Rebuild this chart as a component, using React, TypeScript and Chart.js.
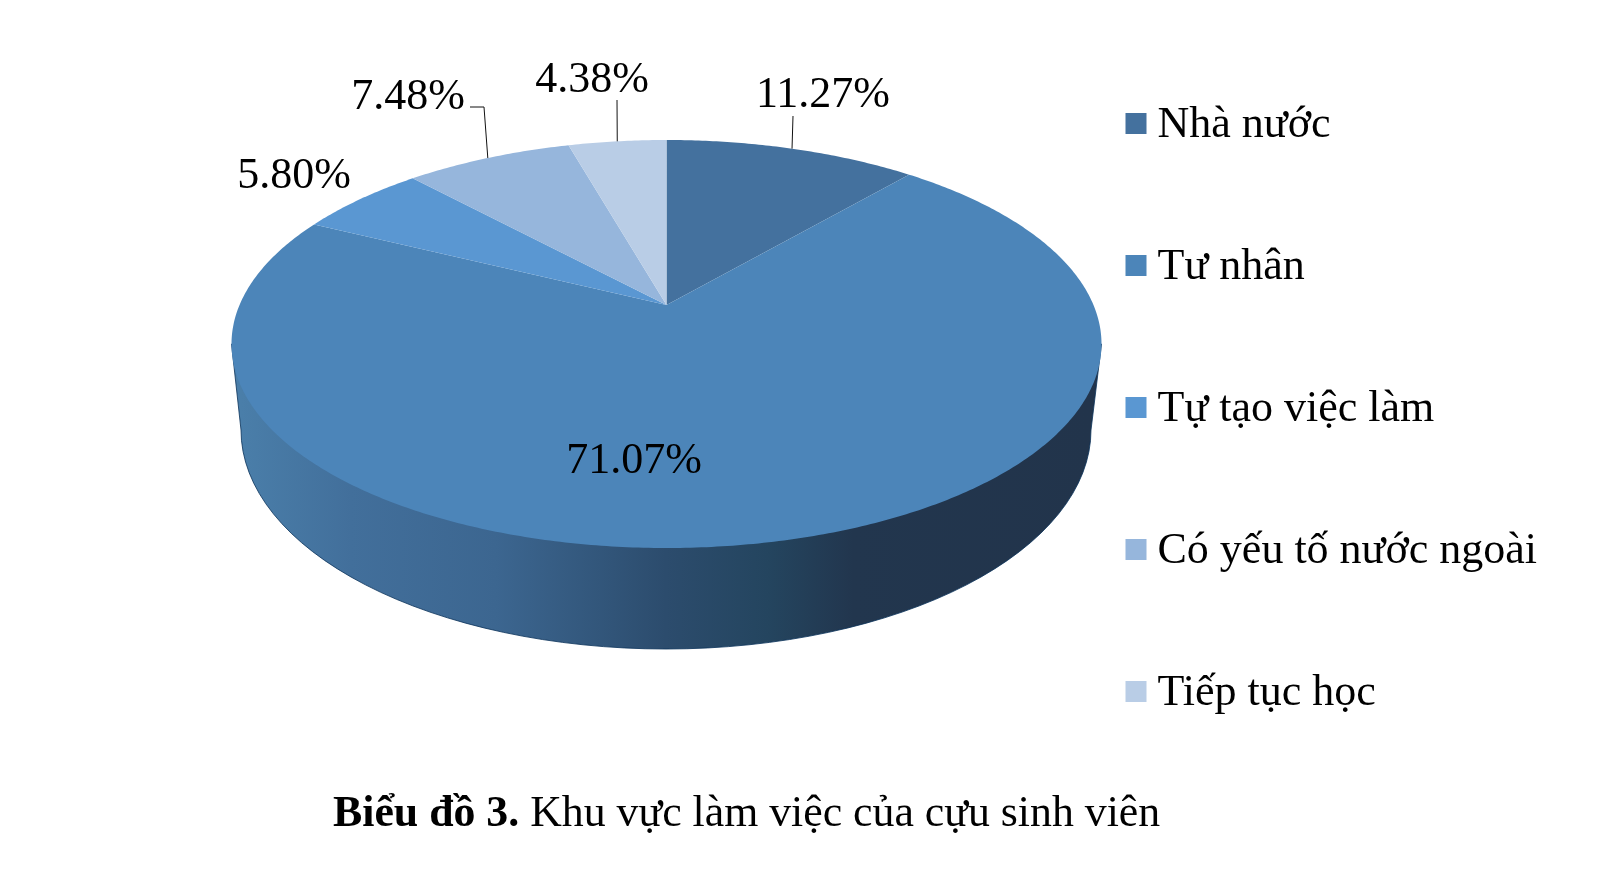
import React, { useEffect, useRef } from "react";
import { Chart, registerables } from "chart.js";

Chart.register(...registerables);

const categories = ["Nhà nước", "Tư nhân", "Tự tạo việc làm", "Có yếu tố nước ngoài", "Tiếp tục học"];
const shares = [11.27, 71.07, 5.8, 7.48, 4.38];
const sliceColors = ["#44719e", "#4c85b9", "#5a97d2", "#96b6dc", "#b9cde6"];

const FONT = '"Liberation Serif"';
const TOP = { cx: 666.5, cy: 344, rx: 435, ry: 204, apexY: 305 };
const BASE = { cx: 666, cy: 430, rx: 425, ry: 219 };

// text anchor (centre x, baseline y) and leader path for each data label
const labelSpots = [
  { x: 823, y: 107, leader: [[793, 116]] },
  { x: 634, y: 473, leader: [] },
  { x: 294, y: 188, leader: [] },
  { x: 408, y: 109, leader: [[470, 107], [484, 107]] },
  { x: 592, y: 92, leader: [[617, 100]] },
];

function rim(a: number) {
  const k = (TOP.apexY - TOP.cy) / TOP.ry;
  const d = 1 + k * Math.sin(a);
  const x = TOP.rx * Math.sqrt(1 - k * k) * Math.cos(a) / d;
  const y = TOP.ry * (Math.sin(a) + k) / d;
  return [TOP.cx + x, TOP.cy + y];
}

const pie3d = {
  id: "pie3d",
  beforeDatasetDraw(chart: any) {
    const ctx = chart.ctx;
    const arcs = chart.getDatasetMeta(0).data;

    // side wall
    const g = ctx.createLinearGradient(BASE.cx - BASE.rx, 0, BASE.cx + BASE.rx, 0);
    g.addColorStop(0, "#4a7ea9");
    g.addColorStop(0.13, "#426f9b");
    g.addColorStop(0.3, "#3c6690");
    g.addColorStop(0.5, "#2c4c6d");
    g.addColorStop(0.62, "#24455f");
    g.addColorStop(0.72, "#22364e");
    g.addColorStop(1, "#22344b");
    ctx.save();
    ctx.beginPath();
    ctx.moveTo(TOP.cx - TOP.rx, TOP.cy);
    ctx.ellipse(BASE.cx, BASE.cy, BASE.rx, BASE.ry, 0, Math.PI, 0, true);
    ctx.lineTo(TOP.cx + TOP.rx, TOP.cy);
    ctx.closePath();
    ctx.fillStyle = g;
    ctx.fill();
    ctx.strokeStyle = "rgba(10,50,90,0.8)";
    ctx.lineWidth = 1;
    ctx.stroke();

    // top face: the angles come from the library's arc elements
    arcs.forEach((arc: any, i: number) => {
      const { startAngle, endAngle } = arc.getProps(["startAngle", "endAngle"], true);
      ctx.beginPath();
      ctx.moveTo(TOP.cx, TOP.apexY);
      const steps = Math.ceil((endAngle - startAngle) / 0.01);
      for (let s = 0; s <= steps; s++) {
        const p = rim(startAngle + ((endAngle - startAngle) * s) / steps);
        ctx.lineTo(p[0], p[1]);
      }
      ctx.closePath();
      ctx.fillStyle = sliceColors[i];
      ctx.fill();
    });
    ctx.restore();
    return false;
  },
  afterDraw(chart: any) {
    const ctx = chart.ctx;
    const arcs = chart.getDatasetMeta(0).data;
    ctx.save();

    // legend swatches beside the library's legend text
    chart.legend.legendHitBoxes.forEach((box: any, i: number) => {
      ctx.fillStyle = sliceColors[i];
      ctx.fillRect(box.left - 10, box.top + box.height / 2 - 12, 21, 21);
    });

    // leaders and data labels
    ctx.font = `44px ${FONT}`;
    ctx.fillStyle = "#000";
    ctx.textAlign = "center";
    ctx.textBaseline = "alphabetic";
    shares.forEach((v, i) => {
      const spot = labelSpots[i];
      if (spot.leader.length) {
        const { startAngle, endAngle } = arcs[i].getProps(["startAngle", "endAngle"], true);
        const e = rim((startAngle + endAngle) / 2);
        ctx.beginPath();
        ctx.moveTo(spot.leader[0][0], spot.leader[0][1]);
        spot.leader.slice(1).forEach((p) => ctx.lineTo(p[0], p[1]));
        ctx.lineTo(e[0], e[1]);
        ctx.strokeStyle = "#111";
        ctx.lineWidth = 1;
        ctx.stroke();
      }
      ctx.fillText(`${v.toFixed(2)}%`, spot.x, spot.y);
    });
    ctx.restore();
  },
};

export default function App() {
  const ref = useRef<HTMLCanvasElement>(null);
  useEffect(() => {
    const chart = new Chart(ref.current!, {
      type: "pie",
      data: {
        labels: categories,
        datasets: [{ data: shares, backgroundColor: sliceColors, borderWidth: 0 }],
      },
      options: {
        animation: false,
        responsive: false,
        layout: { padding: { right: 52, bottom: 64 } },
        plugins: {
          tooltip: { enabled: false },
          legend: {
            position: "right",
            labels: {
              boxWidth: 0,
              boxHeight: 0,
              padding: 98,
              color: "#000",
              font: { family: FONT, size: 44 },
              generateLabels: () =>
                categories.map((text, i) => ({
                  text,
                  fillStyle: "rgba(0,0,0,0)",
                  strokeStyle: "rgba(0,0,0,0)",
                  lineWidth: 0,
                  index: i,
                })),
            },
          },
        },
      },
      plugins: [pie3d],
    } as any);
    return () => chart.destroy();
  }, []);

  return (
    <div style={{ position: "absolute", left: 0, top: 0, width: 1599, height: 882, background: "#fff", overflow: "hidden" }}>
      <canvas ref={ref} width={1599} height={882} style={{ display: "block" }} />
      <div
        style={{
          position: "absolute",
          left: 333,
          top: 790,
          fontFamily: FONT,
          fontSize: 43.8,
          lineHeight: 1,
          color: "#000",
          whiteSpace: "nowrap",
        }}
      >
        <b>Biểu đồ 3.</b> Khu vực làm việc của cựu sinh viên
      </div>
    </div>
  );
}
